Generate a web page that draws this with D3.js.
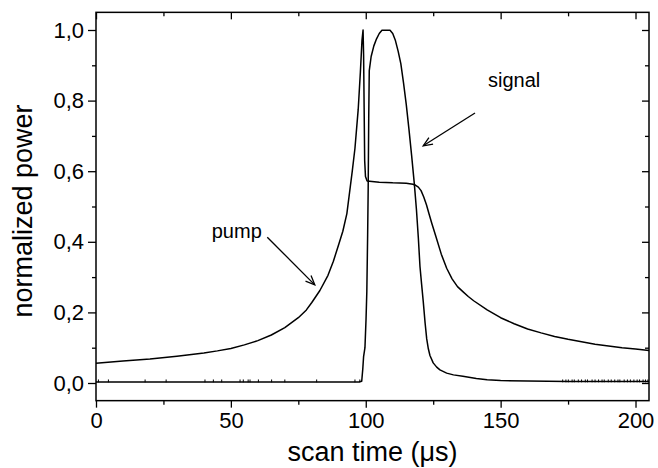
<html>
<head>
    <script src="https://d3js.org/d3.v7.min.js" charset="utf-8"></script>
    <style>
        body { margin: 0; background: #fff; }
    </style>
</head>
<body>
    <script type="text/javascript">
        var width = 658;
        var height = 468;

        var margin = {
            top: 12.35,
            right: 9,
            bottom: 67.35,
            left: 96
        };

        // pump trace (scan time in us, normalized power)
        const pumpTime = [0, 10, 20, 30, 40, 45, 50, 55, 60, 65, 70, 75, 78, 80, 83, 86, 88, 90, 91.5, 93, 94, 95, 96, 97.2, 98, 98.6, 99,
            99.2, 99.4, 99.6, 99.9, 100.5, 105, 110, 115, 117.5, 118.5, 119.5, 120.5, 121.5, 122.5, 123.5, 124.5, 126, 128, 130,
            132, 134, 136, 138, 140, 145, 150, 155, 160, 165, 170, 175, 180, 185, 190, 195, 200, 205];
        const pumpPower = [0.056, 0.062, 0.068, 0.076, 0.085, 0.091, 0.098, 0.108, 0.120, 0.136, 0.157, 0.185, 0.207, 0.228, 0.262, 0.305, 0.345, 0.393, 0.43, 0.48, 0.54, 0.60, 0.665, 0.775, 0.88, 0.97, 1.0,
            0.93, 0.78, 0.63, 0.585, 0.572, 0.569, 0.567, 0.566, 0.563, 0.56, 0.555, 0.545, 0.527, 0.505, 0.478, 0.452, 0.415, 0.365, 0.325,
            0.295, 0.273, 0.259, 0.245, 0.233, 0.207, 0.185, 0.168, 0.153, 0.142, 0.132, 0.124, 0.117, 0.110, 0.105, 0.100, 0.096, 0.092];

        // signal trace
        const signalTime = [0, 97.5, 98.5, 98.9, 99.2, 99.7, 100.1, 100.4, 100.7, 100.9, 101.1, 101.3, 102, 103, 104, 105, 106, 109, 110, 111,
            112, 113, 114, 115, 116, 117, 118, 118.8, 119.5, 120.1, 120.7, 121.3, 122, 122.6, 123.2, 123.8, 125, 126.3, 127.5, 130,
            132.5, 136, 141, 145, 150, 160, 175, 205];
        const signalPower = [0.003, 0.003, 0.005, 0.04, 0.075, 0.10, 0.18, 0.26, 0.42, 0.55, 0.75, 0.885, 0.925, 0.955, 0.975, 0.99, 0.999, 0.999, 0.99, 0.97,
            0.94, 0.905, 0.85, 0.79, 0.72, 0.645, 0.565, 0.49, 0.41, 0.33, 0.28, 0.232, 0.17, 0.125, 0.097, 0.078, 0.057, 0.045, 0.037, 0.028,
            0.023, 0.019, 0.013, 0.009, 0.007, 0.006, 0.004, 0.004];

        // small noise spikes on the signal baseline
        const signalSpikeTime = [0.9, 4.6, 18.2, 26, 40.4, 43.5, 46.6, 53.4, 54.6, 56.4, 57.1, 60.2, 65.1, 70, 81.8, 96, 97.8,
            173, 174.2, 175.1, 176.5, 177.3, 178.8, 180, 181.4, 182.2, 183.9, 185, 186.3, 187.6, 188.4, 189.9, 191, 192.3,
            193.5, 194.2, 195.8, 197, 198.1, 199.4, 200.6, 201.5, 202.8, 203.7, 204.6];

        const xMajorTicks = [0, 50, 100, 150, 200];
        const xMinorTicks = [25, 75, 125, 175];
        const yMajorTicks = [0, 0.2, 0.4, 0.6, 0.8, 1.0];
        const yMinorTicks = [0.1, 0.3, 0.5, 0.7, 0.9];

        const font = '"Liberation Sans", Arial, Helvetica, sans-serif';
        const commaFormat = d3.formatLocale({ decimal: ",", thousands: ".", grouping: [3], currency: ["", ""] }).format(".1f");

        const svg = d3.select("body").append("svg")
            .attr("width", width)
            .attr("height", height);

        const g = svg.append("g")
            .style("font-family", font);

        const xScale = d3.scaleLinear()
            .domain([0, 205])
            .range([margin.left, width - margin.right]);

        const yScale = d3.scaleLinear()
            .domain([-0.05, 1.05])
            .range([height - margin.bottom, margin.top]);

        function styleAxis(sel) {
            sel.select(".domain").remove();
            sel.selectAll(".tick line").attr("stroke", "#000").attr("stroke-width", 1.3);
            sel.selectAll(".tick text").attr("fill", "#000").style("font-family", font);
        }

        // bottom axis
        g.append("g")
            .attr("transform", `translate(0,${height - margin.bottom})`)
            .call(d3.axisBottom(xScale).tickValues(xMajorTicks).tickSize(7).tickPadding(5).tickFormat(d3.format("d")))
            .call(styleAxis)
            .call(s => s.selectAll(".tick text").style("font-size", "22px"));
        g.append("g")
            .attr("transform", `translate(0,${height - margin.bottom})`)
            .call(d3.axisBottom(xScale).tickValues(xMinorTicks).tickSize(4).tickFormat(""))
            .call(styleAxis);

        // top axis (mirrored, inward)
        g.append("g")
            .attr("transform", `translate(0,${margin.top})`)
            .call(d3.axisTop(xScale).tickValues(xMajorTicks).tickSize(-7).tickFormat(""))
            .call(styleAxis);
        g.append("g")
            .attr("transform", `translate(0,${margin.top})`)
            .call(d3.axisTop(xScale).tickValues(xMinorTicks).tickSize(-4).tickFormat(""))
            .call(styleAxis);

        // left axis
        g.append("g")
            .attr("transform", `translate(${margin.left},0)`)
            .call(d3.axisLeft(yScale).tickValues(yMajorTicks).tickSize(8).tickPadding(4).tickFormat(commaFormat))
            .call(styleAxis)
            .call(s => s.selectAll(".tick text").style("font-size", "22px"));
        g.append("g")
            .attr("transform", `translate(${margin.left},0)`)
            .call(d3.axisLeft(yScale).tickValues(yMinorTicks).tickSize(4).tickFormat(""))
            .call(styleAxis);

        // right axis (mirrored, inward)
        g.append("g")
            .attr("transform", `translate(${width - margin.right},0)`)
            .call(d3.axisRight(yScale).tickValues(yMajorTicks).tickSize(-7).tickFormat(""))
            .call(styleAxis);
        g.append("g")
            .attr("transform", `translate(${width - margin.right},0)`)
            .call(d3.axisRight(yScale).tickValues(yMinorTicks).tickSize(-4).tickFormat(""))
            .call(styleAxis);

        // frame
        g.append("rect")
            .attr("x", margin.left)
            .attr("y", margin.top)
            .attr("width", width - margin.left - margin.right)
            .attr("height", height - margin.top - margin.bottom)
            .attr("fill", "none")
            .attr("stroke", "#000")
            .attr("stroke-width", 1.5);

        const line = d3.line()
            .x(d => xScale(d[0]))
            .y(d => yScale(d[1]));

        const pumpData = pumpTime.map((t, i) => [t, pumpPower[i]]);
        const signalData = signalTime.map((t, i) => [t, signalPower[i]]);

        g.append("path")
            .datum(signalData)
            .attr("d", line)
            .attr("fill", "none")
            .attr("stroke", "#000")
            .attr("stroke-width", 1.5)
            .attr("stroke-linejoin", "round");

        g.append("path")
            .datum(pumpData)
            .attr("d", line)
            .attr("fill", "none")
            .attr("stroke", "#000")
            .attr("stroke-width", 1.5)
            .attr("stroke-linejoin", "round");

        g.selectAll(".spike")
            .data(signalSpikeTime)
            .join("line")
                .attr("class", "spike")
                .attr("x1", d => xScale(d))
                .attr("x2", d => xScale(d))
                .attr("y1", yScale(0.002))
                .attr("y2", yScale(0.010))
                .attr("stroke", "#000")
                .attr("stroke-width", 1);

        // annotations with arrows
        function arrow(x1, y1, x2, y2) {
            const ax = xScale(x1), ay = yScale(y1), bx = xScale(x2), by = yScale(y2);
            const ang = Math.atan2(by - ay, bx - ax);
            const len = 10, spread = 0.4;
            g.append("line")
                .attr("x1", ax).attr("y1", ay).attr("x2", bx).attr("y2", by)
                .attr("stroke", "#000").attr("stroke-width", 1.3);
            g.append("path")
                .attr("d", `M${bx - len * Math.cos(ang - spread)},${by - len * Math.sin(ang - spread)}L${bx},${by}L${bx - len * Math.cos(ang + spread)},${by - len * Math.sin(ang + spread)}`)
                .attr("fill", "none").attr("stroke", "#000").attr("stroke-width", 1.3);
        }

        arrow(63.5, 0.413, 81.1, 0.278);
        arrow(140.5, 0.765, 121.3, 0.672);

        g.append("text")
            .attr("x", xScale(42.9))
            .attr("y", yScale(0.41))
            .style("font-size", "20px")
            .text("pump");

        g.append("text")
            .attr("x", xScale(145.3))
            .attr("y", yScale(0.838))
            .style("font-size", "20px")
            .text("signal");

        // axis titles
        g.append("text")
            .attr("x", (margin.left + width - margin.right) / 2)
            .attr("y", 461)
            .attr("text-anchor", "middle")
            .style("font-size", "27px")
            .text("scan time (\u03bcs)");

        g.append("text")
            .attr("transform", `translate(32, 211) rotate(-90)`)
            .attr("text-anchor", "middle")
            .style("font-size", "27px")
            .text("normalized power");
    </script>
</body>

</html>
